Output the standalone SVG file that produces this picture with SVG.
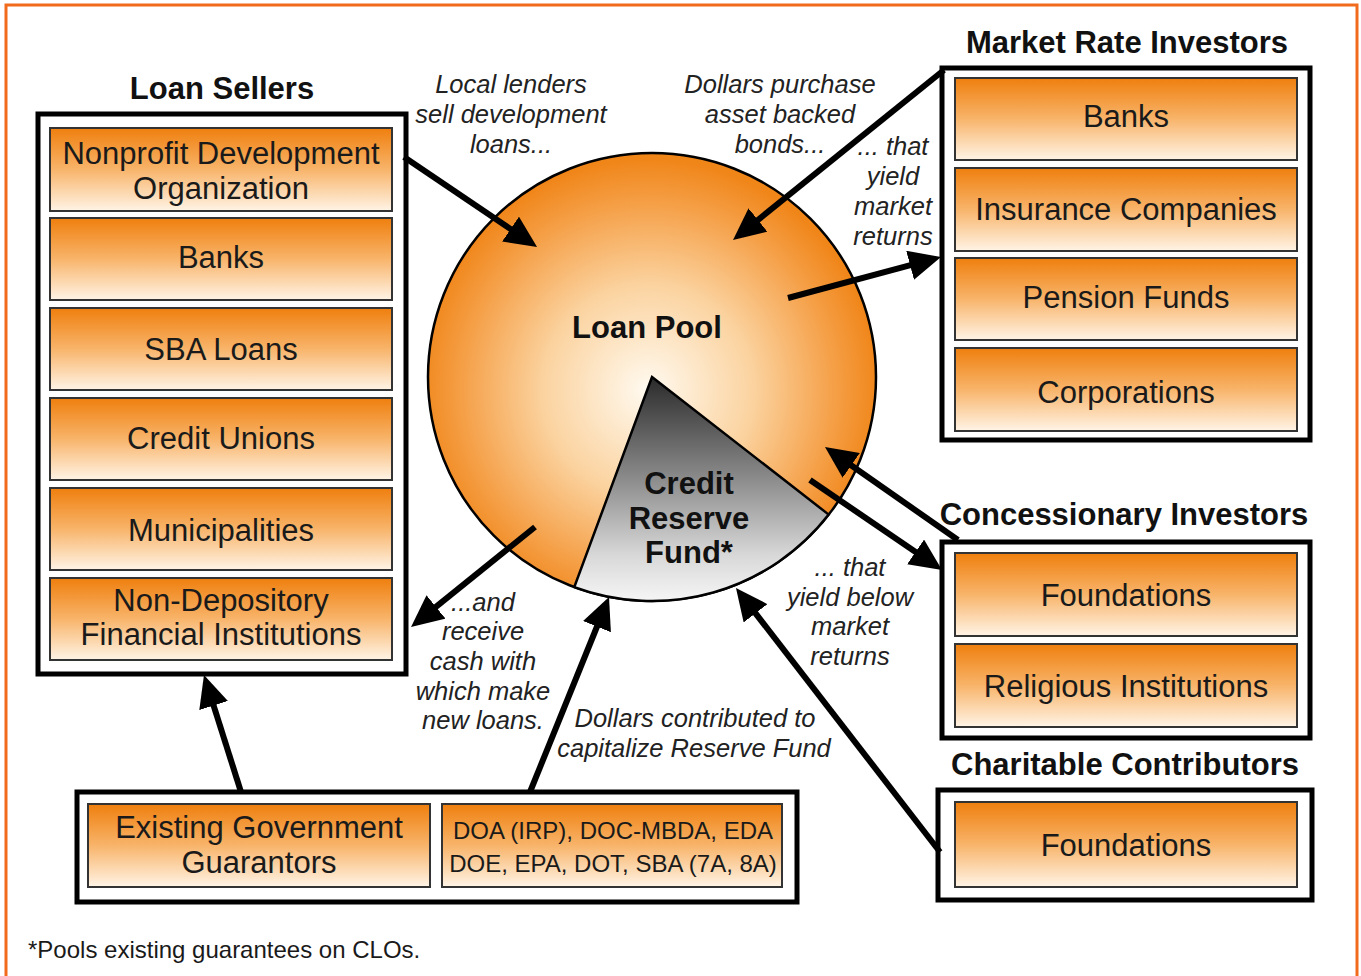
<svg xmlns="http://www.w3.org/2000/svg" width="1361" height="976" viewBox="0 0 1361 976">
<defs>
<linearGradient id="boxg" x1="0" y1="0" x2="0" y2="1">
<stop offset="0" stop-color="#ef7f0e"/>
<stop offset="0.5" stop-color="#f8b46a"/>
<stop offset="1" stop-color="#fff4e6"/>
</linearGradient>
<radialGradient id="poolg" gradientUnits="userSpaceOnUse" cx="648" cy="390" r="232">
<stop offset="0" stop-color="#fffaf0"/>
<stop offset="0.45" stop-color="#fbd3a0"/>
<stop offset="0.8" stop-color="#f5a048"/>
<stop offset="1" stop-color="#f08518"/>
</radialGradient>
<linearGradient id="resg" gradientUnits="userSpaceOnUse" x1="0" y1="377" x2="0" y2="600">
<stop offset="0" stop-color="#2a2a2a"/>
<stop offset="0.45" stop-color="#8a8a8a"/>
<stop offset="0.8" stop-color="#d8d8d8"/>
<stop offset="1" stop-color="#f5f5f5"/>
</linearGradient>
<marker id="ah" viewBox="0 0 32 30" markerWidth="32" markerHeight="30" markerUnits="userSpaceOnUse" refX="12" refY="15" orient="auto">
<path d="M0,0 L32,15 L0,30 Z" fill="#000"/>
</marker>
</defs>
<style>
.outer{fill:#fff;stroke:#000;stroke-width:5}
.item{fill:url(#boxg);stroke:#333;stroke-width:2}
.t{font-family:"Liberation Sans",Arial,sans-serif;font-size:31px;fill:#1a1a1a;text-anchor:middle}
.h{font-family:"Liberation Sans",Arial,sans-serif;font-size:31px;font-weight:bold;fill:#111;text-anchor:middle}
.i{font-family:"Liberation Sans",Arial,sans-serif;font-size:25.5px;font-style:italic;fill:#222;text-anchor:middle}
.s{font-family:"Liberation Sans",Arial,sans-serif;font-size:24px;fill:#1a1a1a;text-anchor:middle}
.c{fill:none;stroke:#000;stroke-width:6;marker-end:url(#ah)}
</style>
<rect x="6" y="5" width="1351" height="990" fill="#fff" stroke="#f26a1b" stroke-width="3"/>

<g id="loan-sellers">
<text class="h" x="222" y="99">Loan Sellers</text>
<rect class="outer" x="38" y="114" width="368" height="560"/>
<rect class="item" x="50" y="128" width="342" height="83"/>
<text class="t" x="221" y="164">Nonprofit Development</text>
<text class="t" x="221" y="199">Organization</text>
<rect class="item" x="50" y="218" width="342" height="82"/>
<text class="t" x="221" y="268">Banks</text>
<rect class="item" x="50" y="308" width="342" height="82"/>
<text class="t" x="221" y="360">SBA Loans</text>
<rect class="item" x="50" y="398" width="342" height="82"/>
<text class="t" x="221" y="449">Credit Unions</text>
<rect class="item" x="50" y="488" width="342" height="82"/>
<text class="t" x="221" y="541">Municipalities</text>
<rect class="item" x="50" y="578" width="342" height="82"/>
<text class="t" x="221" y="611">Non-Depository</text>
<text class="t" x="221" y="645">Financial Institutions</text>
</g>

<g id="market-rate-investors">
<text class="h" x="1127" y="53">Market Rate Investors</text>
<rect class="outer" x="942" y="68" width="368" height="372"/>
<rect class="item" x="955" y="78" width="342" height="82"/>
<text class="t" x="1126" y="127">Banks</text>
<rect class="item" x="955" y="168" width="342" height="83"/>
<text class="t" x="1126" y="220">Insurance Companies</text>
<rect class="item" x="955" y="258" width="342" height="82"/>
<text class="t" x="1126" y="308">Pension Funds</text>
<rect class="item" x="955" y="348" width="342" height="83"/>
<text class="t" x="1126" y="403">Corporations</text>
</g>

<g id="concessionary-investors">
<text class="h" x="1124" y="525">Concessionary Investors</text>
<rect class="outer" x="942" y="542" width="368" height="196"/>
<rect class="item" x="955" y="553" width="342" height="83"/>
<text class="t" x="1126" y="606">Foundations</text>
<rect class="item" x="955" y="644" width="342" height="83"/>
<text class="t" x="1126" y="697">Religious Institutions</text>
</g>

<g id="charitable-contributors">
<text class="h" x="1125" y="775">Charitable Contributors</text>
<rect class="outer" x="938" y="790" width="374" height="110"/>
<rect class="item" x="955" y="802" width="342" height="85"/>
<text class="t" x="1126" y="856">Foundations</text>
</g>

<g id="government-guarantors">
<rect class="outer" x="77" y="792" width="720" height="110"/>
<rect class="item" x="88" y="804" width="342" height="83"/>
<text class="t" x="259" y="838">Existing Government</text>
<text class="t" x="259" y="873">Guarantors</text>
<rect class="item" x="442" y="804" width="340" height="83"/>
<text class="s" x="613" y="839">DOA (IRP), DOC-MBDA, EDA</text>
<text class="s" x="613" y="872">DOE, EPA, DOT, SBA (7A, 8A)</text>
</g>

<g id="loan-pool">
<circle cx="652" cy="377" r="224" fill="url(#poolg)" stroke="#000" stroke-width="2.5"/>
<text class="h" x="647" y="338">Loan Pool</text>
</g>

<g id="credit-reserve-fund">
<path d="M652,377 L828.7,514.6 A224,224 0 0 1 574.3,587.1 Z" fill="url(#resg)" stroke="#000" stroke-width="2.5"/>
<text class="h" x="689" y="494">Credit</text>
<text class="h" x="689" y="529">Reserve</text>
<text class="h" x="689" y="563">Fund*</text>
</g>

<g id="connectors">
<line class="c" x1="404" y1="157" x2="520.5" y2="235.8"/>
<line class="c" x1="944" y1="70" x2="748.6" y2="227.5"/>
<line class="c" x1="788" y1="298" x2="921.7" y2="262.2"/>
<line class="c" x1="535" y1="527" x2="426.6" y2="614.4"/>
<line class="c" x1="530" y1="792" x2="601.5" y2="615.5"/>
<line class="c" x1="241" y1="792" x2="210" y2="694.1"/>
<line class="c" x1="940" y1="852" x2="748.2" y2="603.8"/>
<line class="c" x1="810" y1="480" x2="925.5" y2="558.7"/>
<line class="c" x1="958" y1="540" x2="841.4" y2="458.5"/>
</g>

<g id="labels">
<text class="i" x="511" y="93">Local lenders</text>
<text class="i" x="511" y="123">sell development</text>
<text class="i" x="511" y="153">loans...</text>
<text class="i" x="780" y="93">Dollars purchase</text>
<text class="i" x="780" y="123">asset backed</text>
<text class="i" x="780" y="153">bonds...</text>
<text class="i" x="893" y="155">... that</text>
<text class="i" x="893" y="185">yield</text>
<text class="i" x="893" y="215">market</text>
<text class="i" x="893" y="245">returns</text>
<text class="i" x="483" y="611">...and</text>
<text class="i" x="483" y="640">receive</text>
<text class="i" x="483" y="670">cash with</text>
<text class="i" x="483" y="700">which make</text>
<text class="i" x="483" y="729">new loans.</text>
<text class="i" x="695" y="727">Dollars contributed to</text>
<text class="i" x="694" y="757">capitalize Reserve Fund</text>
<text class="i" x="850" y="576">... that</text>
<text class="i" x="850" y="606">yield below</text>
<text class="i" x="850" y="635">market</text>
<text class="i" x="850" y="665">returns</text>
<text class="s" x="28" y="958" style="text-anchor:start">*Pools existing guarantees on CLOs.</text>
</g>
</svg>
